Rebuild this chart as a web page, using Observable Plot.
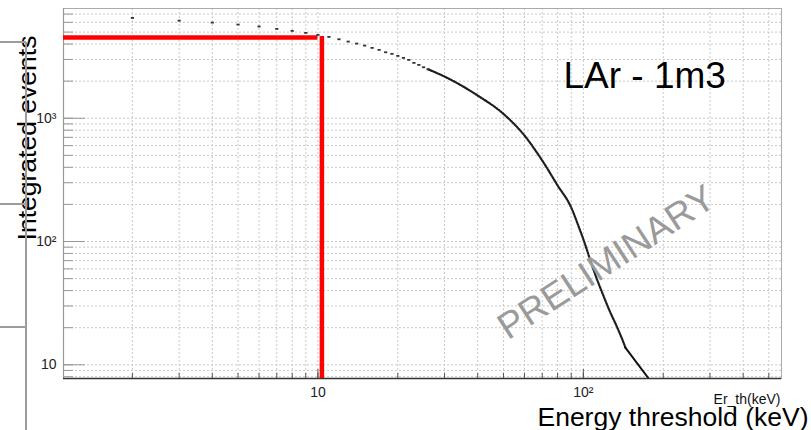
<!DOCTYPE html>
<html>
<head>
<meta charset="utf-8">
<script src="https://cdn.jsdelivr.net/npm/d3@7"></script>
<script src="https://cdn.jsdelivr.net/npm/@observablehq/plot@0.6"></script>
<style>
  body { margin: 0; background: #fff; }
  #wrap { position: relative; width: 811px; height: 430px; overflow: hidden;
          font-family: "Liberation Sans", Arial, Helvetica, sans-serif; }
  .bracket { position: absolute; background: #9c9c9c; }
</style>
</head>
<body>
<div id="wrap"></div>
<script>
// Integrated events above threshold, 1 keV steps (individual markers)
const markerE = [2, 3, 4, 5, 6, 7, 8, 9, 10, 11, 12, 13, 14, 15, 16, 17, 18, 19, 20, 21, 22, 23, 24, 25, 26];
const markerN = [6516, 6195, 5970, 5756, 5550, 5310, 5115, 4928, 4740, 4571, 4373, 4188, 4036, 3887, 3724,
                 3586, 3430, 3330, 3207, 3090, 2976, 2814, 2710, 2592, 2495];

// Dense part of the same scan, drawn as a dotted trace
const curveE = [26, 30, 40, 50, 60, 70, 80, 90, 95.7, 101.3, 106.3, 111.9, 118.5, 125.4, 133.2, 141.6, 144.0];
const curveN = [2495, 2179, 1528, 1086, 724, 454, 285, 189, 134.8, 96.3, 70.1, 51.1, 37.2, 27.6, 20.8, 15.2, 13.8];

// Low-statistics tail
const tailE = [144.0, 175.4];
const tailN = [13.8, 7.85];

// Selected threshold and the corresponding integrated rate
const thresholdE = [10.35];
const thresholdN = [4530];

// Axis ranges, grid and tick labels
const xDomain = [1.1, 558];
const yDomain = [7.74, 7770];
const xGrid = [2, 3, 4, 5, 6, 7, 8, 9, 10, 20, 30, 40, 50, 60, 70, 80, 90, 100, 200, 300, 400, 500];
const yGrid = [8, 9, 10, 20, 30, 40, 50, 60, 70, 80, 90, 100, 200, 300, 400, 500, 600, 700, 800, 900,
               1000, 2000, 3000, 4000, 5000, 6000, 7000];
const xMajor = [10, 100];
const xTickLabels = ["10", "10\u00B2"];
const yMajor = [10, 100, 1000];
const yTickLabels = ["10", "10\u00B2", "10\u00B3"];

const toRows = (xs, ys) => xs.map((x, i) => ({x, y: ys[i]}));
const markers = toRows(markerE, markerN);
const curve = toRows(curveE, curveN);
const tail = toRows(tailE, tailN);

// small horizontal dash used as the point marker
const dashSymbol = {draw(ctx) { ctx.rect(-1.6, -0.9, 3.2, 1.8); }};

const chart = Plot.plot({
  width: 811,
  height: 430,
  marginLeft: 63,
  marginRight: 30,
  marginTop: 8,
  marginBottom: 52,
  style: {fontFamily: "'Liberation Sans', Arial, Helvetica, sans-serif", fontSize: "14px", background: "#fff", color: "#222"},
  x: {type: "log", domain: xDomain},
  y: {type: "log", domain: yDomain},
  marks: [
    // dotted grid
    Plot.ruleX(xGrid, {stroke: "#c8c8c8", strokeDasharray: "2,2", strokeWidth: 1}),
    Plot.ruleY(yGrid, {stroke: "#c8c8c8", strokeDasharray: "2,2", strokeWidth: 1}),
    Plot.frame({stroke: "#aaaaaa", strokeWidth: 1}),
    Plot.ruleX([xDomain[0]], {stroke: "#999", strokeWidth: 1.2}),
    Plot.ruleY([yDomain[0]], {stroke: "#333", strokeWidth: 1.4}),
    // inward ticks
    Plot.axisY(yGrid, {anchor: "left", tickSize: -10, tickFormat: () => "", stroke: "#999", label: null}),
    Plot.axisY(yMajor, {anchor: "left", tickSize: -22, tickFormat: () => "", stroke: "#999", label: null}),
    Plot.axisX(xGrid, {anchor: "bottom", tickSize: -5, tickFormat: () => "", stroke: "#555", label: null}),
    Plot.axisX(xMajor, {anchor: "bottom", tickSize: -9, tickFormat: () => "", stroke: "#555", label: null}),
    // tick labels
    Plot.axisY(yMajor, {anchor: "left", tickSize: 0, tickPadding: 7, fontSize: 14, fill: "#222",
                        tickFormat: d => yTickLabels[yMajor.indexOf(d)], label: null}),
    Plot.axisX(xMajor, {anchor: "bottom", tickSize: 0, tickPadding: 9, fontSize: 14, fill: "#222",
                        tickFormat: d => xTickLabels[xMajor.indexOf(d)], label: null}),
    // threshold guide lines
    Plot.ruleY(thresholdN, {x1: xDomain[0], x2: 10, stroke: "#ff0000", strokeWidth: 4.5}),
    Plot.ruleX(thresholdE, {y1: yDomain[0], y2: 4600, stroke: "#ff0000", strokeWidth: 4.5}),
    // the scan
    Plot.line(curve, {x: "x", y: "y", stroke: "#1e1e1e", strokeWidth: 2.2, strokeDasharray: "1.5,1.3",
                      curve: "monotone-x", clip: true}),
    Plot.line(tail, {x: "x", y: "y", stroke: "#111", strokeWidth: 2, clip: true}),
    Plot.dot(markers, {x: "x", y: "y", r: 1.5, fill: "#333", symbol: dashSymbol}),
    // annotations
    Plot.text(["LAr - 1m3"], {frameAnchor: "top-right", dx: -218, dy: 79, textAnchor: "start", lineAnchor: "bottom",
                              fontSize: 37, fill: "#000"}),
    Plot.text(["PRELIMINARY"], {frameAnchor: "top-left", dx: 543, dy: 254, rotate: -33, fontSize: 37,
                                fill: "#9a9a9a", textAnchor: "middle", lineAnchor: "middle"}),
    Plot.text(["Integrated events"], {frameAnchor: "left", dx: -28, dy: -55.5, rotate: -90, fontSize: 26.5,
                                      fill: "#000", textAnchor: "middle", lineAnchor: "bottom"}),
    Plot.text(["Er_th(keV)"], {frameAnchor: "bottom-right", dx: -1, dy: 25, fontSize: 14, fill: "#111",
                               textAnchor: "end", lineAnchor: "bottom"}),
    Plot.text(["Energy threshold (keV)"], {frameAnchor: "bottom-right", dx: 27, dy: 47, fontSize: 26.5,
                                           fill: "#000", textAnchor: "end", lineAnchor: "bottom"})
  ]
});

const wrap = document.getElementById("wrap");
wrap.appendChild(chart);

// bracket lines on the left margin
[["25px", "42px", "2px", "388px"],
 ["0px", "41px", "26px", "2px"],
 ["0px", "203px", "26px", "2px"],
 ["0px", "326px", "26px", "2px"]].forEach(([l, t, w, h]) => {
  const d = document.createElement("div");
  d.className = "bracket";
  Object.assign(d.style, {left: l, top: t, width: w, height: h});
  wrap.appendChild(d);
});
</script>
</body>
</html>
